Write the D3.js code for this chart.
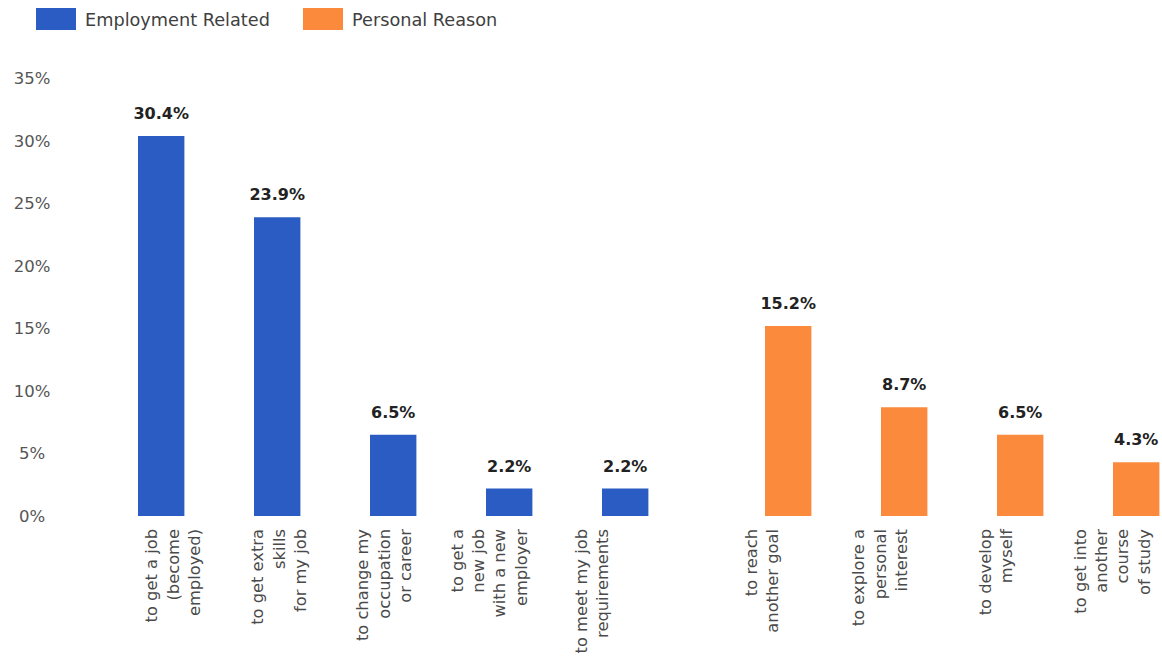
<!DOCTYPE html>
<html>
<head>
<meta charset="utf-8">
<script src="https://cdn.jsdelivr.net/npm/d3@7"></script>
<style>
  html, body { margin: 0; padding: 0; background: #fff; }
  svg { display: block; }
</style>
</head>
<body>
<svg id="chart" width="1162" height="659"></svg>
<script>
// Reasons for studying, share of respondents (%)
const categories = [
  "to get a job (become employed)",
  "to get extra skills for my job",
  "to change my occupation or career",
  "to get a new job with a new employer",
  "to meet my job requirements",
  "to reach another goal",
  "to explore a personal interest",
  "to develop myself",
  "to get into another course of study"
];
const categoryLines = [
  ["to get a job", "(become", "employed)"],
  ["to get extra", "skills", "for my job"],
  ["to change my", "occupation", "or career"],
  ["to get a", "new job", "with a new", "employer"],
  ["to meet my job", "requirements"],
  ["to reach", "another goal"],
  ["to explore a", "personal", "interest"],
  ["to develop", "myself"],
  ["to get into", "another", "course", "of study"]
];
const groups = [
  "Employment Related", "Employment Related", "Employment Related",
  "Employment Related", "Employment Related",
  "Personal Reason", "Personal Reason", "Personal Reason", "Personal Reason"
];
const values = [30.4, 23.9, 6.5, 2.2, 2.2, 15.2, 8.7, 6.5, 4.3];
const seriesNames = ["Employment Related", "Personal Reason"];
const yTicks = [0, 5, 10, 15, 20, 25, 30, 35];

const data = categories.map((c, i) => ({
  category: c, lines: categoryLines[i], group: groups[i], value: values[i], index: i
}));

const svg = d3.select("#chart");
const FONT = "'DejaVu Sans', Verdana, sans-serif";

const color = d3.scaleOrdinal().domain(seriesNames).range(["#2b5cc4", "#fc8a3c"]);
// the personal-reason group sits a little further right
const groupShift = d3.scaleOrdinal().domain(seriesNames).range([0, 47]);

const y = d3.scaleLinear().domain([0, 35]).range([516, 78.5]);
const x = d3.scaleBand()
  .domain(categories)
  .range([103.2, 103.2 + 1044])
  .paddingInner(0.6)
  .paddingOuter(0.3);

// category label blocks are laid out on their own spacing
const labelX = d3.scaleOrdinal()
  .domain(categories)
  .range([173, 279, 384, 489, 592, 762, 880, 996, 1112]);

// y axis labels (no axis line, no gridlines)
const yAxis = d3.axisLeft(y).tickValues(yTicks).tickFormat(d => d + "%").tickSize(0).tickPadding(0);
const yg = svg.append("g").attr("transform", "translate(32,0)").call(yAxis);
yg.select(".domain").remove();
yg.selectAll("text")
  .attr("text-anchor", "middle")
  .attr("font-family", FONT)
  .attr("font-size", 16.5)
  .attr("fill", "#555");

const barX = d => x(d.category) + groupShift(d.group);

// bars
svg.append("g").selectAll("rect")
  .data(data)
  .join("rect")
  .attr("x", barX)
  .attr("y", d => y(d.value))
  .attr("width", x.bandwidth())
  .attr("height", d => y(0) - y(d.value))
  .attr("fill", d => color(d.group));

// value labels
svg.append("g").selectAll("text")
  .data(data)
  .join("text")
  .attr("x", d => barX(d) + x.bandwidth() / 2)
  .attr("y", d => y(d.value) - 17)
  .attr("text-anchor", "middle")
  .attr("font-family", FONT)
  .attr("font-size", 16)
  .attr("font-weight", "bold")
  .attr("fill", "#222")
  .text(d => d3.format(".1f")(d.value) + "%");

// rotated category labels
const lineGap = 21.3;
const labels = svg.append("g").selectAll("g")
  .data(data)
  .join("g");
labels.each(function(d) {
  const n = d.lines.length;
  d3.select(this).selectAll("text")
    .data(d.lines)
    .join("text")
    .attr("transform", (line, i) => {
      const cx = labelX(d.category) + (i - (n - 1) / 2) * lineGap;
      return `translate(${cx},529) rotate(-90)`;
    })
    .attr("dy", "0.35em")
    .attr("text-anchor", "end")
    .attr("font-family", FONT)
    .attr("font-size", 16.3)
    .attr("fill", "#4a4a4a")
    .text(line => line);
});

// legend
const legendX = d3.scaleOrdinal().domain(seriesNames).range([36, 303]);
const legend = svg.append("g").selectAll("g")
  .data(seriesNames)
  .join("g")
  .attr("transform", d => `translate(${legendX(d)},8)`);
legend.append("rect")
  .attr("width", 40)
  .attr("height", 22)
  .attr("fill", d => color(d));
legend.append("text")
  .attr("x", 49)
  .attr("y", 18)
  .attr("font-family", FONT)
  .attr("font-size", 17.7)
  .attr("fill", "#404040")
  .text(d => d);
</script>
</body>
</html>
